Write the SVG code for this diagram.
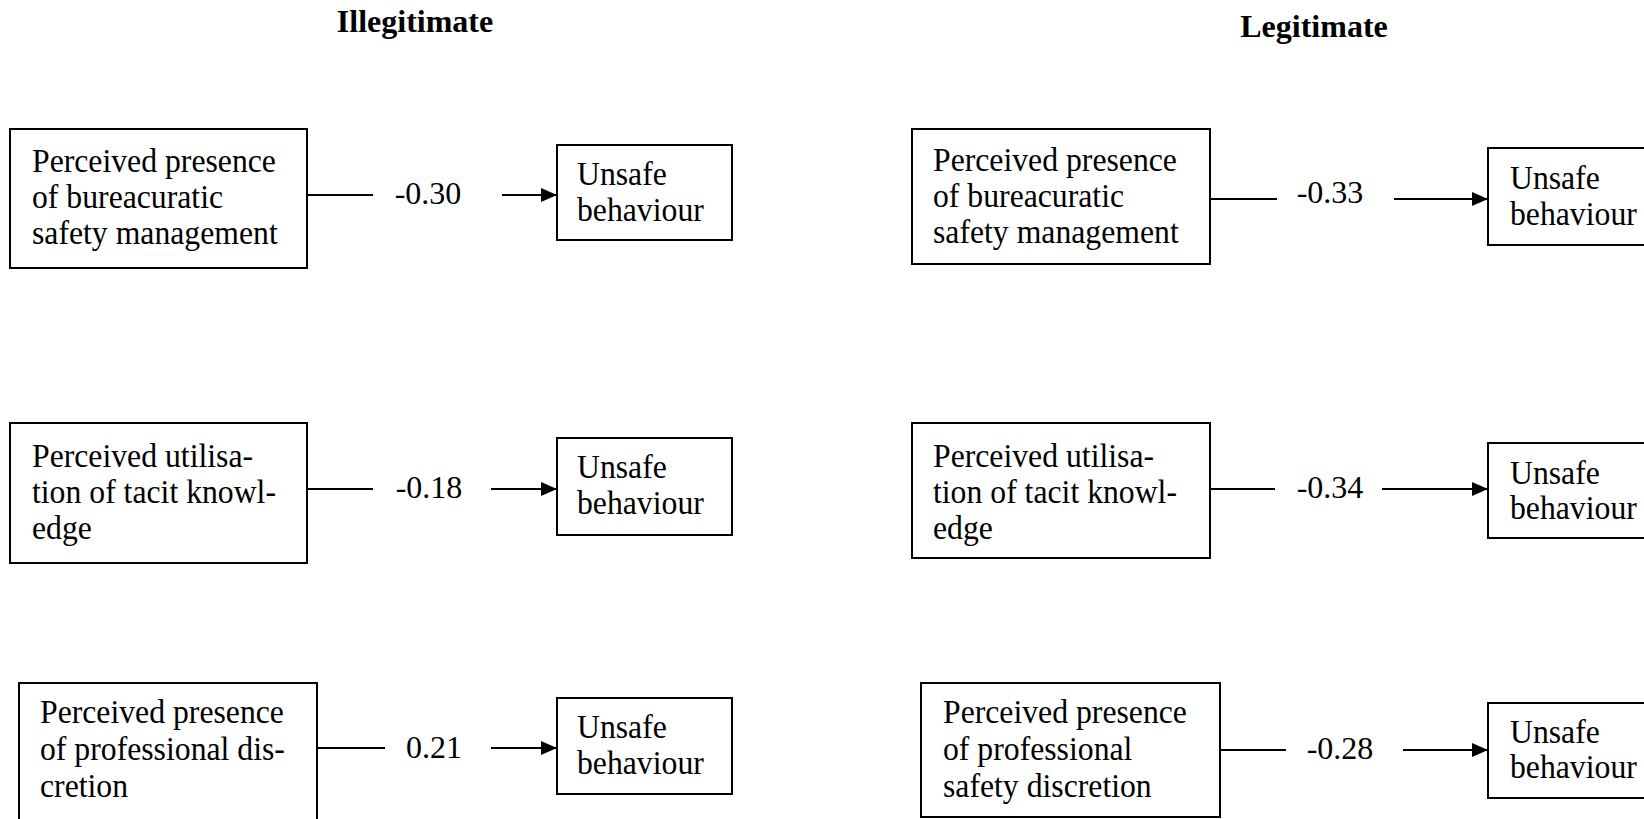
<svg xmlns="http://www.w3.org/2000/svg" width="1644" height="819" viewBox="0 0 1644 819">
<style>
text{font-family:"Liberation Serif","Times New Roman",serif;font-size:32px;fill:#000}
.n text{font-size:34.5px}
.title{font-weight:bold;text-anchor:middle}
.lbl{text-anchor:middle}
rect{fill:#fff;stroke:#000;stroke-width:2}
.c line{stroke:#000;stroke-width:2}
</style>
<defs>
<marker id="ah" markerUnits="userSpaceOnUse" markerWidth="18" markerHeight="16" refX="16" refY="7" orient="auto">
<path d="M0,0 L16,7 L0,14 Z" fill="#000"/>
</marker>
</defs>
<rect x="0" y="0" width="1644" height="819" style="stroke:none"/>
<text class="title" x="415" y="32">Illegitimate</text>
<text class="title" x="1314" y="37">Legitimate</text>

<g id="L1">
<rect x="10" y="129" width="297" height="139"/>
<g class="n" transform="translate(32,0) scale(0.92,1)">
<text x="0" y="172">Perceived presence</text>
<text x="0" y="208">of bureacuratic</text>
<text x="0" y="244">safety management</text>
</g>
</g>
<g id="LU1">
<rect x="557" y="145" width="175" height="95"/>
<g class="n" transform="translate(577,0) scale(0.92,1)">
<text x="0" y="185">Unsafe</text>
<text x="0" y="221">behaviour</text>
</g>
</g>
<g id="L2">
<rect x="10" y="423" width="297" height="140"/>
<g class="n" transform="translate(32,0) scale(0.92,1)">
<text x="0" y="467">Perceived utilisa-</text>
<text x="0" y="503">tion of tacit knowl-</text>
<text x="0" y="539">edge</text>
</g>
</g>
<g id="LU2">
<rect x="557" y="438" width="175" height="97"/>
<g class="n" transform="translate(577,0) scale(0.92,1)">
<text x="0" y="478">Unsafe</text>
<text x="0" y="514">behaviour</text>
</g>
</g>
<g id="L3">
<rect x="19" y="683" width="298" height="160"/>
<g class="n" transform="translate(40,0) scale(0.92,1)">
<text x="0" y="723">Perceived presence</text>
<text x="0" y="760">of professional dis-</text>
<text x="0" y="797">cretion</text>
</g>
</g>
<g id="LU3">
<rect x="557" y="698" width="175" height="96"/>
<g class="n" transform="translate(577,0) scale(0.92,1)">
<text x="0" y="738">Unsafe</text>
<text x="0" y="774">behaviour</text>
</g>
</g>

<g id="R1">
<rect x="912" y="129" width="298" height="135"/>
<g class="n" transform="translate(933,0) scale(0.92,1)">
<text x="0" y="171">Perceived presence</text>
<text x="0" y="207">of bureacuratic</text>
<text x="0" y="243">safety management</text>
</g>
</g>
<g id="RU1">
<rect x="1488" y="148" width="180" height="97"/>
<g class="n" transform="translate(1510,0) scale(0.92,1)">
<text x="0" y="189">Unsafe</text>
<text x="0" y="225">behaviour</text>
</g>
</g>
<g id="R2">
<rect x="912" y="423" width="298" height="135"/>
<g class="n" transform="translate(933,0) scale(0.92,1)">
<text x="0" y="467">Perceived utilisa-</text>
<text x="0" y="503">tion of tacit knowl-</text>
<text x="0" y="539">edge</text>
</g>
</g>
<g id="RU2">
<rect x="1488" y="443" width="180" height="95"/>
<g class="n" transform="translate(1510,0) scale(0.92,1)">
<text x="0" y="484">Unsafe</text>
<text x="0" y="519">behaviour</text>
</g>
</g>
<g id="R3">
<rect x="921" y="683" width="299" height="134"/>
<g class="n" transform="translate(943,0) scale(0.92,1)">
<text x="0" y="723">Perceived presence</text>
<text x="0" y="760">of professional</text>
<text x="0" y="797">safety discretion</text>
</g>
</g>
<g id="RU3">
<rect x="1488" y="703" width="180" height="95"/>
<g class="n" transform="translate(1510,0) scale(0.92,1)">
<text x="0" y="743">Unsafe</text>
<text x="0" y="778">behaviour</text>
</g>
</g>

<g id="connectors" class="c">
<line x1="307" y1="195" x2="373" y2="195"/>
<line x1="502" y1="195" x2="557" y2="195" marker-end="url(#ah)"/>
<line x1="307" y1="489" x2="373" y2="489"/>
<line x1="491" y1="489" x2="557" y2="489" marker-end="url(#ah)"/>
<line x1="317" y1="748" x2="385" y2="748"/>
<line x1="491" y1="748" x2="557" y2="748" marker-end="url(#ah)"/>
<line x1="1210" y1="199" x2="1277" y2="199"/>
<line x1="1394" y1="199" x2="1488" y2="199" marker-end="url(#ah)"/>
<line x1="1210" y1="489" x2="1275" y2="489"/>
<line x1="1382" y1="489" x2="1488" y2="489" marker-end="url(#ah)"/>
<line x1="1220" y1="750" x2="1286" y2="750"/>
<line x1="1403" y1="750" x2="1488" y2="750" marker-end="url(#ah)"/>
</g>
<g id="labels">
<text class="lbl" x="428" y="204">-0.30</text>
<text class="lbl" x="429" y="498">-0.18</text>
<text class="lbl" x="434" y="758">0.21</text>
<text class="lbl" x="1330" y="203">-0.33</text>
<text class="lbl" x="1330" y="498">-0.34</text>
<text class="lbl" x="1340" y="759">-0.28</text>
</g>
</svg>
